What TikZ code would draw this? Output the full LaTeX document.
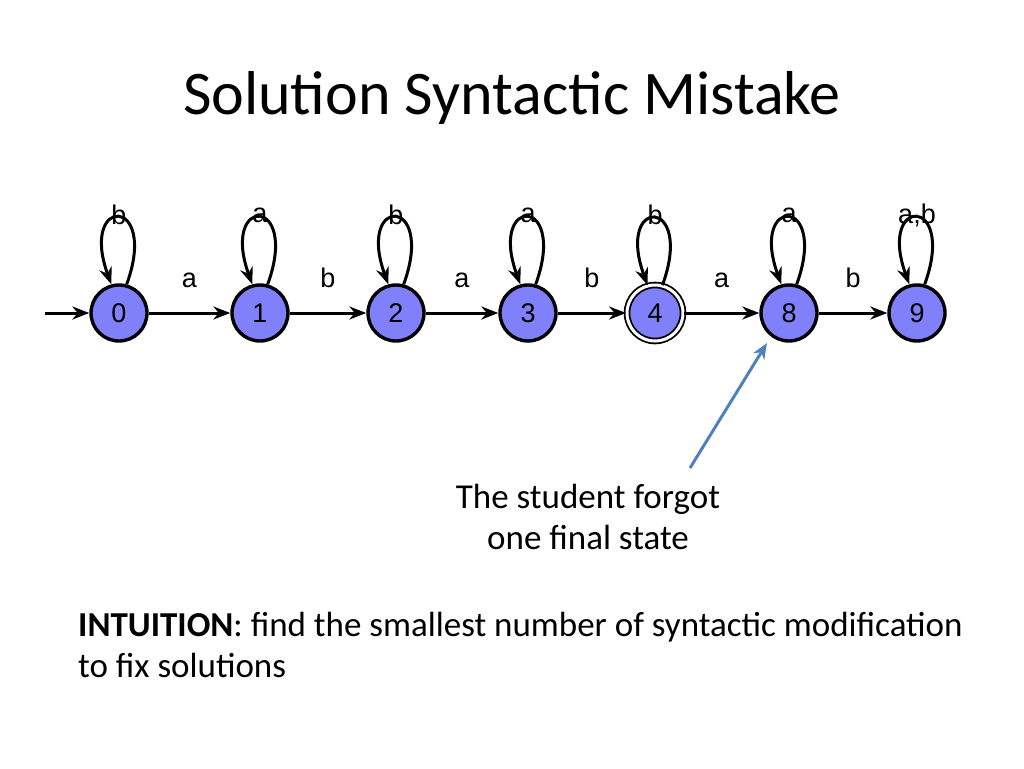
\documentclass[tikz,border=0pt]{standalone}
\usepackage{fontspec}
\setmainfont{Carlito}
\newfontfamily\autfont{Liberation Sans}
\usetikzlibrary{arrows.meta}
\begin{document}
\begin{tikzpicture}[x=1pt,y=-1pt,
  st/.style={circle,draw,line width=3.4pt,fill={rgb,255:red,128;green,128;blue,250},minimum size=56pt,inner sep=0pt,font=\autfont\fontsize{27}{30}\selectfont},
  tr/.style={line width=3pt,-{Stealth[length=17pt,width=13pt]}},
  lab/.style={font=\autfont\fontsize{27}{30}\selectfont},
  txt/.style={font=\fontsize{35}{41}\selectfont}]
\useasboundingbox (0,0) rectangle (1024,768);
\node[font=\fontsize{62}{70}\selectfont] (title) at (512,98) {Solution Syntactic Mistake};
\foreach \n/\x/\l in {0/119/b,1/260/a,2/396/b,3/528/a,8/789/a,9/917/{a,b}}{
  \node[st] (s\n) at (\x,313) {\n};
  \draw[tr] (s\n.75) .. controls +(70:95pt) and +(110:95pt) .. (s\n.105);
  \node[lab] (l\n) at (\x,215) {\l};
}
\node[st,draw=black,double=white,double distance=3pt,line width=1.8pt] (s4) at (655,313) {4};
\draw[tr] (s4.75) .. controls +(70:95pt) and +(110:95pt) .. (s4.105);
\node[lab] (l4) at (655,215) {b};
\coordinate (init) at (45,313);
\draw[tr] (init) -- (s0);
\draw[tr] (s0) -- node[lab,above=20pt]{a} (s1);
\draw[tr] (s1) -- node[lab,above=20pt]{b} (s2);
\draw[tr] (s2) -- node[lab,above=20pt]{a} (s3);
\draw[tr] (s3) -- node[lab,above=20pt]{b} (s4);
\draw[tr] (s4) -- node[lab,above=20pt]{a} (s8);
\draw[tr] (s8) -- node[lab,above=20pt]{b} (s9);
\node[txt,align=center] (note) at (588,517) {The student forgot\\one final state};
\draw[line width=3pt,draw={rgb,255:red,79;green,129;blue,189},-{Stealth[length=16pt,width=13pt]}] (690,468) -- (767,343);
\node[txt,align=left,anchor=north west,inner sep=0pt] (intu) at (78,612) {\textbf{INTUITION}: find the smallest number of syntactic modification\\to fix solutions};
\end{tikzpicture}
\end{document}
